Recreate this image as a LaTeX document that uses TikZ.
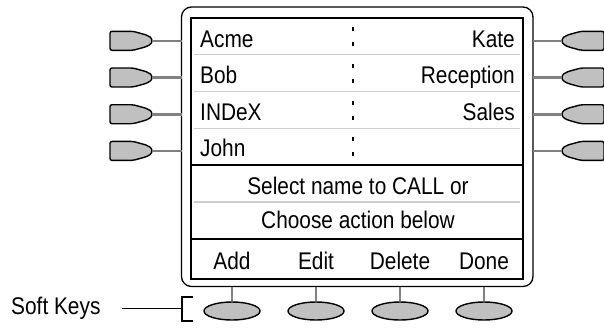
\documentclass[tikz,border=0pt]{standalone}
\usepackage{fontspec}
\setmainfont{Liberation Sans}
\usetikzlibrary{shapes.geometric}
\definecolor{keygrey}{RGB}{192,192,192}
\definecolor{conngrey}{RGB}{128,128,128}
\definecolor{sepgrey}{RGB}{205,205,205}
\newcommand\tallt[1]{\scalebox{0.97}[1.12]{#1}}
\begin{document}
\begin{tikzpicture}[x=1pt,y=-1pt,
  btnstyle/.style={draw=black,fill=keygrey,line width=1.4pt,rounded corners=2pt},
  conn/.style={draw=conngrey,line width=2.6pt},
  sep/.style={draw=sepgrey,line width=1.4pt},
  thicksep/.style={draw=black,line width=2.6pt},
  softkey/.style={ellipse,draw=black,fill=keygrey,line width=1.4pt,minimum width=56pt,minimum height=18pt,inner sep=0pt},
  lbl/.style={font=\fontsize{21.5}{24}\selectfont,inner sep=0pt},
  colondot/.style={fill=black},
  lbtn/.pic={\path[btnstyle] (-42,-9.5) -- (-19,-9.5) -- (-8,-6.5) [sharp corners] .. controls (-3,-5) and (0,-3) .. (0,0) .. controls (0,3) and (-3,5) .. (-8,6.5) [rounded corners=2pt] -- (-19,9.5) -- (-42,9.5) -- cycle;}
]
\useasboundingbox (0,0) rectangle (604,327);

% frames
\draw[line width=1.3pt,rounded corners=10pt] (181.5,7) rectangle (533,286.5);
\coordinate (frameL) at (181.5,0);
\coordinate (frameR) at (533,0);
\coordinate (frameB) at (0,286.5);
\draw[line width=1.8pt] (191,18) rectangle (523,279);

% row separators
\foreach \y in {54.75,91.5,128.25} \draw[sep] (194,\y) -- (520,\y);
\draw[sep] (194,202) -- (520,202);
\draw[thicksep] (191,165) -- (523,165);
\draw[thicksep] (191,239) -- (523,239);

% colon dots
\foreach \t in {18,54.75,91.5,128.25} {
  \fill[colondot] (352,\t+9) rectangle (354,\t+13);
  \fill[colondot] (352,\t+24) rectangle (354,\t+28);
}

% names
\node[lbl,anchor=base west] (n1) at (200,47) {\tallt{Acme}};
\node[lbl,anchor=base west] (n2) at (200,83.25) {\tallt{Bob}};
\node[lbl,anchor=base west] (n3) at (200,120) {\tallt{INDeX}};
\node[lbl,anchor=base west] (n4) at (200,156.75) {\tallt{John}};
\node[lbl,anchor=base east] (m1) at (515,47) {\tallt{Kate}};
\node[lbl,anchor=base east] (m2) at (515,83.25) {\tallt{Reception}};
\node[lbl,anchor=base east] (m3) at (515,120) {\tallt{Sales}};

\node[lbl,anchor=base] (msg1) at (358,194.5) {\tallt{Select name to CALL or}};
\node[lbl,anchor=base] (msg2) at (358,228.5) {\tallt{Choose action below}};

% side buttons
\foreach \i/\c in {1/40.8,2/77.5,3/114.2,4/150.9} {
  \pic at (152,\c) {lbtn};
  \coordinate (lb\i) at (152,\c);
  \draw[conn] (lb\i) -- (lb\i -| frameL);
  \pic[xscale=-1] at (562,\c) {lbtn};
  \coordinate (rb\i) at (562,\c);
  \draw[conn] (rb\i) -- (rb\i -| frameR);
}

% soft keys
\foreach \i/\x/\t in {1/232/Add,2/316/Edit,3/400/Delete,4/484/Done} {
  \node[softkey] (sk\i) at (\x,311) {};
  \draw[conn] (sk\i.north) -- (sk\i.north |- frameB);
  \node[lbl,anchor=base] (sl\i) at (\x,269) {\tallt{\t}};
}

% Soft Keys label
\node[lbl,anchor=base west] (skl) at (11,314.5) {\tallt{Soft Keys}};
\coordinate (brT) at (193,297);
\coordinate (brB) at (193,321);
\coordinate (brM) at (182,308.5);
\draw[line width=1.1pt] (122,308.5) -- (brM);
\draw[line width=1.3pt] (brT) -- (brT -| brM) -- (brB -| brM) -- (brB);
\end{tikzpicture}
\end{document}
